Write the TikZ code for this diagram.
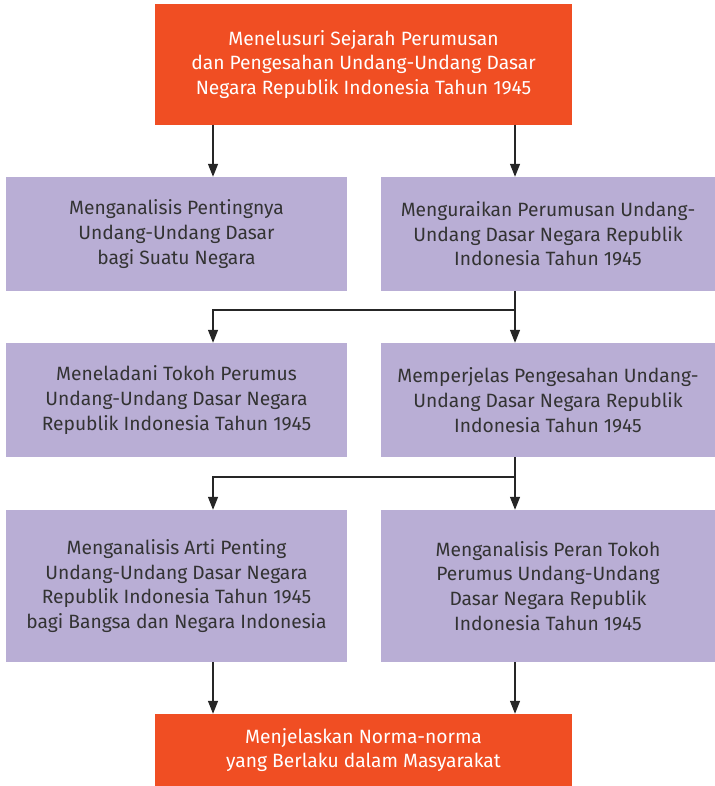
\documentclass[tikz,border=0pt]{standalone}
\usepackage{fontspec}
\setmainfont{Fira Sans}
\usepackage{xcolor}
\usetikzlibrary{arrows.meta}
\definecolor{judul}{HTML}{F04E23}
\definecolor{ungu}{HTML}{B9AED5}
\definecolor{teks}{HTML}{333333}
\tikzset{
 kotak/.style={fill=ungu,text=teks,align=center,inner sep=0pt,font=\fontsize{19.3}{24.8}\selectfont},
 utama/.style={fill=judul,text=white,align=center,inner sep=0pt,font=\fontsize{19.3}{24.8}\selectfont},
 panah/.style={line width=1.3bp,draw=black!85,-{Triangle[length=13bp,width=10bp]}},
}

\begin{document}
\begin{tikzpicture}[x=1bp,y=-1bp]
        \useasboundingbox (0,0) rectangle (715,786);
        % kotak atas dan bawah
        \node[utama, minimum width=417bp, minimum height=120bp] (awal) at (363.5, 64.5)
            {Menelusuri Sejarah Perumusan\\dan Pengesahan Undang-Undang Dasar\\Negara Republik Indonesia Tahun 1945};
        \node[utama, minimum width=417bp, minimum height=72bp] (akhir) at (363.5, 750)
            {Menjelaskan Norma-norma\\yang Berlaku dalam Masyarakat};

        % baris kiri dan kanan
        \node[kotak, minimum width=341bp, minimum height=114bp] (kiri1) at (176.5, 234)
            {Menganalisis Pentingnya\\Undang-Undang Dasar\\bagi Suatu Negara};
        \node[kotak, minimum width=334bp, minimum height=114bp] (kanan1) at (548, 234)
            {Menguraikan Perumusan Undang-\\Undang Dasar Negara Republik\\Indonesia Tahun 1945};
        \node[kotak, minimum width=341bp, minimum height=114bp] (kiri2) at (176.5, 400)
            {Meneladani Tokoh Perumus\\Undang-Undang Dasar Negara\\Republik Indonesia Tahun 1945};
        \node[kotak, minimum width=334bp, minimum height=114bp] (kanan2) at (548, 400)
            {Memperjelas Pengesahan Undang-\\Undang Dasar Negara Republik\\Indonesia Tahun 1945};
        \node[kotak, minimum width=341bp, minimum height=152bp] (kiri3) at (176.5, 586)
            {Menganalisis Arti Penting\\Undang-Undang Dasar Negara\\Republik Indonesia Tahun 1945\\bagi Bangsa dan Negara Indonesia};
        \node[kotak, minimum width=334bp, minimum height=152bp] (kanan3) at (548, 586)
            {Menganalisis Peran Tokoh\\Perumus Undang-Undang\\Dasar Negara Republik\\Indonesia Tahun 1945};

        \coordinate (xl) at (213, 0);
        \coordinate (xr) at (515, 0);
        \coordinate (cabang1) at (515, 310);
        \coordinate (cabang2) at (515, 477);

        % panah
        \draw[panah] (awal.south -| xl) -- (kiri1.north -| xl);
        \draw[panah] (awal.south -| xr) -- (kanan1.north -| xr);
        \draw[panah] (kanan1.south -| xr) -- (kanan2.north -| xr);
        \draw[panah] (cabang1) -| (kiri2.north -| xl);
        \draw[panah] (kanan2.south -| xr) -- (kanan3.north -| xr);
        \draw[panah] (cabang2) -| (kiri3.north -| xl);
        \draw[panah] (kiri3.south -| xl) -- (akhir.north -| xl);
        \draw[panah] (kanan3.south -| xr) -- (akhir.north -| xr);
    \end{tikzpicture}
\end{document}
